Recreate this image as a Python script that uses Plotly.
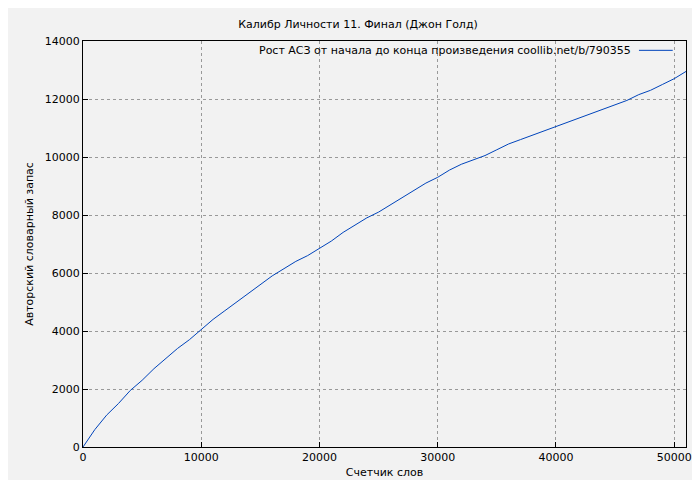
import plotly.graph_objects as go

words = [0,1000,2000,3000,4000,5000,6000,7000,8000,9000,10000,11000,12000,13000,14000,15000,16000,17000,18000,19000,20000,21000,22000,23000,24000,25000,26000,27000,28000,29000,30000,31000,32000,33000,34000,35000,36000,37000,38000,39000,40000,41000,42000,43000,44000,45000,46000,47000,48000,49000,50000,51000]
vocab = [0,600,1100,1500,1950,2300,2700,3050,3400,3700,4050,4400,4700,5000,5300,5600,5900,6150,6400,6600,6850,7100,7400,7650,7900,8100,8350,8600,8850,9100,9300,9550,9750,9900,10050,10250,10450,10600,10750,10900,11050,11200,11350,11500,11650,11800,11950,12150,12300,12500,12700,12950]
legend_text = "Рост АСЗ от начала до конца произведения coollib.net/b/790355"

fig = go.Figure(go.Scatter(x=words, y=vocab, mode="lines", line=dict(color="#0044bb", width=1), showlegend=False))
ax = dict(showline=True, linecolor="black", mirror=True, gridcolor="#999999", griddash="dot",
          zeroline=False, ticks="inside", tickcolor="black", ticklen=5, automargin=False,
          tickformat="d", tickfont=dict(size=11))
fig.update_layout(
    width=700, height=480, paper_bgcolor="#f2f2f2", plot_bgcolor="#f2f2f2",
    font=dict(family="DejaVu Sans", size=11, color="black"),
    title=dict(text="Калибр Личности 11. Финал (Джон Голд)", x=0.5, y=0.975, xanchor="center", font=dict(size=11)),
    margin=dict(l=75, r=22, t=33, b=41),
    xaxis=dict(title=dict(text="Счетчик слов", standoff=5, font=dict(size=11)), range=[0, 51000], dtick=10000, **ax),
    yaxis=dict(title=dict(text="Авторский словарный запас", standoff=8, font=dict(size=11)), range=[0, 14000], dtick=2000, **ax),
)
fig.add_annotation(text=legend_text, xref="paper", yref="paper", x=0.912, y=0.977,
                   xanchor="right", yanchor="middle", showarrow=False, font=dict(size=11))
fig.add_shape(type="line", xref="paper", yref="paper", x0=0.922, x1=0.978, y0=0.977, y1=0.977,
              line=dict(color="#0044bb", width=1))
fig.write_html("out.html")
